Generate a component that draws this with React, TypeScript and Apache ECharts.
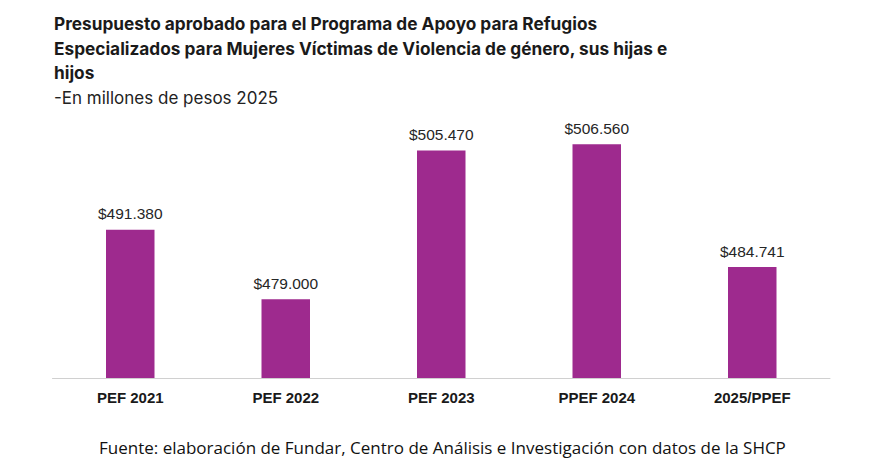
import React, { useEffect, useRef } from "react";
import * as echarts from "echarts";

const categories = ["PEF 2021", "PEF 2022", "PEF 2023", "PPEF 2024", "2025/PPEF"];
const values = [491.38, 479.0, 505.47, 506.56, 484.741];
const valueLabels = ["$491.380", "$479.000", "$505.470", "$506.560", "$484.741"];

const titleLines = [
  "Presupuesto aprobado para el Programa de Apoyo para Refugios",
  "Especializados para Mujeres Víctimas de Violencia de género, sus hijas e",
  "hijos",
];
const subtitle = "-En millones de pesos 2025";
const source = "Fuente: elaboración de Fundar, Centro de Análisis e Investigación con datos de la SHCP";

export default function App() {
  const ref = useRef<HTMLDivElement>(null);
  useEffect(() => {
    if (!ref.current) return;
    const chart = echarts.init(ref.current, null, { renderer: "svg" });
    chart.setOption({
      animation: false,
      backgroundColor: "#ffffff",
      title: [
        {
          text: titleLines.join("\n"),
          left: 54,
          top: 11,
          padding: 0,
          textStyle: {
            fontFamily: "Inter, Liberation Sans, Arial, sans-serif",
            fontWeight: "bold",
            fontSize: 17.25,
            lineHeight: 24.7,
            color: "#1a1a1a",
          },
        },
        {
          text: subtitle,
          left: 54,
          top: 86,
          padding: 0,
          textStyle: {
            fontFamily: "Inter, Liberation Sans, Arial, sans-serif",
            fontWeight: "normal",
            fontSize: 17,
            lineHeight: 24,
            color: "#222222",
          },
        },
        {
          text: source,
          left: 99,
          top: 435,
          padding: 0,
          textStyle: {
            fontFamily: "Open Sans, sans-serif",
            fontWeight: "normal",
            fontSize: 17,
            lineHeight: 24,
            color: "#111111",
          },
        },
      ],
      grid: { left: 52.5, right: 51, top: 125, bottom: 93, containLabel: false },
      xAxis: {
        type: "category",
        data: categories,
        axisLine: { show: true, lineStyle: { color: "#d0d0d0", width: 1 } },
        axisTick: { show: false },
        axisLabel: {
          margin: 12,
          fontFamily: "Liberation Sans, Arial, sans-serif",
          fontWeight: "bold",
          fontSize: 15,
          color: "#1a1a1a",
        },
      },
      yAxis: {
        type: "value",
        min: 465,
        max: 510,
        show: false,
        splitLine: { show: false },
      },
      series: [
        {
          type: "bar",
          data: values,
          barWidth: 48.5,
          itemStyle: { color: "#9e2a8e" },
          label: {
            show: true,
            position: "top",
            distance: 8,
            fontFamily: "Liberation Sans, Arial, sans-serif",
            fontSize: 15.5,
            color: "#262626",
            formatter: (p: any) => valueLabels[p.dataIndex],
          },
        },
      ],
    });
    return () => chart.dispose();
  }, []);
  return (
    <div
      ref={ref}
      style={{ position: "fixed", left: 0, top: 0, width: 881, height: 471 }}
    />
  );
}
